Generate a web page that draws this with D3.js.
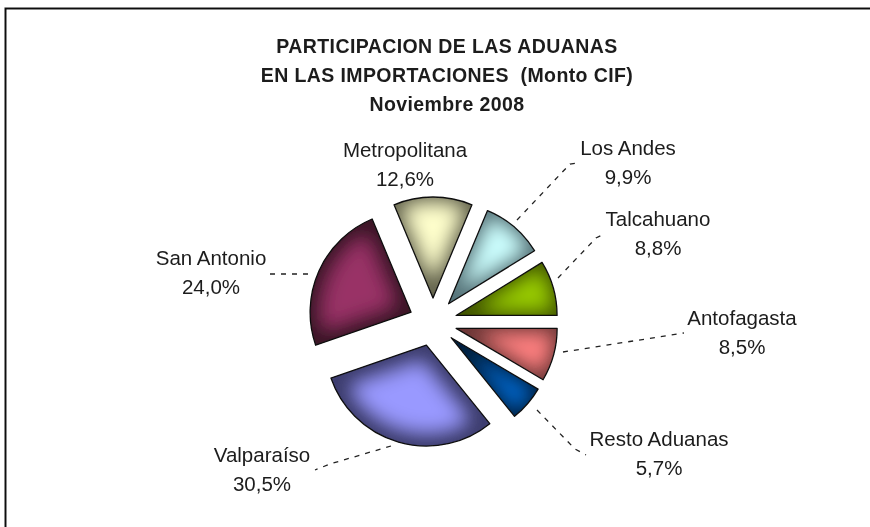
<!DOCTYPE html>
<meta charset="utf-8">
<script src="https://d3js.org/d3.v7.min.js"></script>
<style>
  html, body { margin: 0; background: #fff; }
  svg { display: block; }
  text { font-family: "Liberation Sans", Arial, sans-serif; fill: #1c1c1c; }
</style>
<body>
<script>
// Chart data
const aduanas = ["Antofagasta", "Resto Aduanas", "Valparaíso", "San Antonio", "Metropolitana", "Los Andes", "Talcahuano"];
const participacion = [8.5, 5.7, 30.5, 24.0, 12.6, 9.9, 8.8];
const titleLines = ["PARTICIPACION DE LAS ADUANAS", "EN LAS IMPORTACIONES  (Monto CIF)", "Noviembre 2008"];

// Colours: centre of the slice, then the darker bevel at its edge
const lightColors = ["#ff8080", "#0066cc", "#9999ff", "#993366", "#ffffcc", "#ccffff", "#99cc00"];
const darkColors = ["#6e3838", "#00213f", "#3c3c6e", "#3a1328", "#66664f", "#56747a", "#425700"];

// Where each label sits and how its dashed leader runs
const labelPos = [[742, 325], [659, 446], [262, 462], [211, 265], [405, 157], [628, 155], [658, 226]];
const leaders = [
  [[563, 352], [684, 333]],
  [[537, 410], [575, 449], [586, 455]],
  [[391, 446], [330, 464], [315, 470]],
  [[270, 274], [312, 274]],
  [],
  [[517, 220], [570, 164], [577, 163]],
  [[558, 278], [596, 238], [604, 234]]
];

const width = 870, height = 527;
const cx = 433, cy = 322, radius = 101, explode = 24;

const svg = d3.select("body").append("svg")
  .attr("width", width)
  .attr("height", height);

// Blur used for the bevel inside the slices, and a faint one for the whole picture
const defs = svg.append("defs");
defs.append("filter").attr("id", "bevel")
  .attr("x", "-30%").attr("y", "-30%").attr("width", "160%").attr("height", "160%")
  .append("feGaussianBlur").attr("stdDeviation", 9);
defs.append("filter").attr("id", "soft")
  .attr("filterUnits", "userSpaceOnUse")
  .attr("x", 0).attr("y", 0).attr("width", width).attr("height", height)
  .append("feGaussianBlur").attr("stdDeviation", 0.4);

const chart = svg.append("g").attr("filter", "url(#soft)");

// Outer frame: only the top and left sides are visible
chart.append("path")
  .attr("d", `M5.5,${height}V8.5H${width}`)
  .attr("fill", "none")
  .attr("stroke", "#111")
  .attr("stroke-width", 2);

// Title
chart.append("g").selectAll("text")
  .data(titleLines)
  .join("text")
  .attr("x", 447)
  .attr("y", (d, i) => 53 + i * 29)
  .attr("text-anchor", "middle")
  .attr("font-size", 19.5)
  .attr("font-weight", "bold")
  .attr("letter-spacing", 0.4)
  .style("white-space", "pre")
  .text(d => d);

// Pie, first slice starts at 3 o'clock and runs clockwise
const pie = d3.pie().sort(null)
  .startAngle(Math.PI / 2)
  .endAngle(Math.PI / 2 + 2 * Math.PI);
const arc = d3.arc().innerRadius(0).outerRadius(radius);
const arcs = pie(participacion);

// Bigger slices carry a wider bevel
const bevelWidth = d3.scaleLinear().domain([5, 30]).range([10, 30]);

const slices = chart.append("g")
  .attr("transform", `translate(${cx},${cy})`)
  .selectAll("g")
  .data(arcs)
  .join("g")
  .attr("transform", d => {
    const a = (d.startAngle + d.endAngle) / 2;
    return `translate(${explode * Math.sin(a)},${-explode * Math.cos(a)})`;
  });

slices.append("clipPath")
  .attr("id", (d, i) => "clip" + i)
  .append("path")
  .attr("d", arc);

const clipped = slices.append("g")
  .attr("clip-path", (d, i) => `url(#clip${i})`);

clipped.append("path")
  .attr("d", arc)
  .attr("fill", (d, i) => darkColors[i]);

// Light fill with a thick dark stroke, blurred, gives the soft inner bevel
clipped.append("path")
  .attr("d", arc)
  .attr("fill", (d, i) => lightColors[i])
  .attr("stroke", (d, i) => darkColors[i])
  .attr("stroke-width", d => bevelWidth(d.value))
  .attr("stroke-linejoin", "round")
  .attr("filter", "url(#bevel)");

slices.append("path")
  .attr("d", arc)
  .attr("fill", "none")
  .attr("stroke", "#111")
  .attr("stroke-width", 1.3)
  .attr("stroke-linejoin", "round");

// Dashed leader lines, kept out of the blur so the gaps stay open
const line = d3.line();
svg.append("g").selectAll("path")
  .data(leaders.filter(d => d.length))
  .join("path")
  .attr("d", line)
  .attr("fill", "none")
  .attr("stroke", "#222")
  .attr("stroke-width", 1.3)
  .attr("stroke-dasharray", "5 6");

// Labels: name and percentage with a decimal comma
const labels = chart.append("g").selectAll("g")
  .data(aduanas)
  .join("g")
  .attr("transform", (d, i) => `translate(${labelPos[i][0]},${labelPos[i][1]})`)
  .attr("text-anchor", "middle")
  .attr("font-size", 20.5);

labels.append("text").text(d => d);
labels.append("text")
  .attr("y", 28.5)
  .text((d, i) => participacion[i].toFixed(1).replace(".", ",") + "%");
</script>
</body>
</html>
